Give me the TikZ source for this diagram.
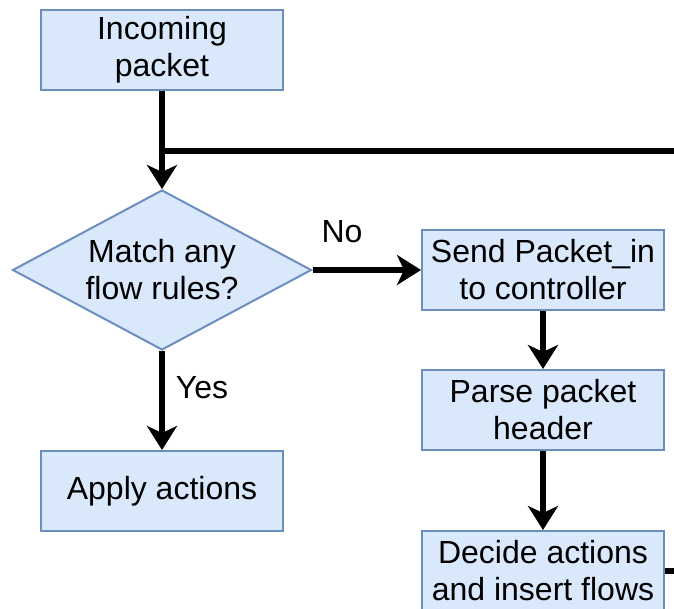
\documentclass[tikz,border=0pt]{standalone}
\usepackage{fontspec}
\setmainfont{Liberation Sans}
\usepackage{tikz}
\usetikzlibrary{shapes.geometric}
\usetikzlibrary{arrows.meta}
\definecolor{boxfill}{HTML}{DAE8FC}
\definecolor{boxline}{HTML}{6C8EBF}
\tikzset{
  bigfont/.style={font=\fontsize{32}{37}\selectfont},
  procnode/.style={draw=boxline, fill=boxfill, line width=2pt, minimum width=242pt, minimum height=80pt, inner sep=0pt, align=center, bigfont},
  decnode/.style={diamond, draw=boxline, fill=boxfill, line width=2pt, minimum width=299pt, minimum height=160pt, inner sep=0pt},
  flowline/.style={line width=6pt},
  flowarrow/.style={flowline, -{Stealth[length=24pt, width=30pt, inset=7pt]}}
}
\newcommand{\procbox}[4]{\node[procnode] (#1) at ( #2 , #3 ) {#4};}
\newcommand{\edgelabel}[4]{\node[bigfont, inner sep=0pt] (#1) at ( #2 , #3 ) {#4};}

\begin{document}
\begin{tikzpicture}[x=1pt, y=1pt]
    \useasboundingbox (0,0) rectangle (674,608);

    % left column
    \procbox{inc}{162}{558}{Incoming\\packet}
    \node[decnode, label={[align=center, bigfont]center:{Match any\\flow rules?}}] (match) at (162,338) {};
    \procbox{apply}{162}{117}{Apply actions}

    % right column
    \procbox{send}{543}{338}{Send Packet\_in\\to controller}
    \procbox{parse}{543}{198}{Parse packet\\header}
    \procbox{decide}{543}{37}{Decide actions\\and insert flows}

    % free ends
    \coordinate (jn) at (162,457);
    \coordinate (jr) at (674,457);
    \coordinate (dr) at (674,37);

    % connectors
    \draw[flowarrow] (inc.south) -- (match.north);
    \draw[flowline] (jn) -- (jr);
    \draw[flowarrow] (match.east) -- (send.west);
    \draw[flowarrow] (match.south) -- (apply.north);
    \draw[flowarrow] (send.south) -- (parse.north);
    \draw[flowarrow] (parse.south) -- (decide.north);
    \draw[flowline] (decide.east) -- (dr);

    % labels
    \edgelabel{no}{342}{376}{No}
    \edgelabel{yes}{202}{220}{Yes}
\end{tikzpicture}
\end{document}
